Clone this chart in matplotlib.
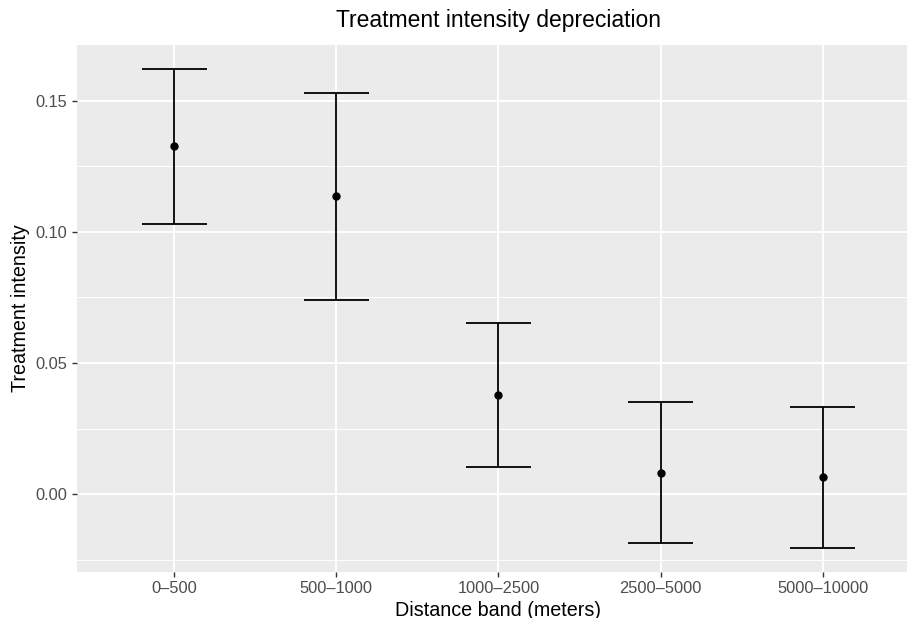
import numpy as np
import matplotlib.pyplot as plt

# values
bands = ["0\u2013500", "500\u20131000", "1000\u20132500", "2500\u20135000", "5000\u201310000"]
estimate = [0.1327, 0.1136, 0.0379, 0.0082, 0.0064]
lower = [0.1031, 0.0740, 0.0104, -0.0186, -0.0206]
upper = [0.1622, 0.1531, 0.0654, 0.0350, 0.0334]

plt.rcParams['font.family'] = ['Liberation Sans', 'DejaVu Sans']

W, H = 907, 618
fig = plt.figure(figsize=(W / 100, H / 100), dpi=100)
# panel in pixels: left 77, right 920 (cropped by the image edge), top 45, bottom 572
ax = fig.add_axes([77 / W, 1 - 572 / H, (920 - 77) / W, (572 - 45) / H])

x = np.arange(len(bands)) + 1
est = np.array(estimate)
lo = np.array(lower)
hi = np.array(upper)

ax.set_facecolor("#EBEBEB")
for s in ax.spines.values():
    s.set_visible(False)

ax.vlines(x, lo, hi, color="black", linewidth=1.3, zorder=3)
# caps 0.4 wide like geom_errorbar(width = 0.4)
ax.hlines(lo, x - 0.2, x + 0.2, color="black", linewidth=1.3, zorder=3)
ax.hlines(hi, x - 0.2, x + 0.2, color="black", linewidth=1.3, zorder=3)
ax.plot(x, est, "o", color="black", markersize=5, zorder=4)

rng = hi.max() - lo.min()
ax.set_ylim(lo.min() - 0.05 * rng, hi.max() + 0.05 * rng)
ax.set_xlim(0.4, len(bands) + 0.6)

ax.set_yticks([0.0, 0.05, 0.10, 0.15])
ax.set_yticklabels(["0.00", "0.05", "0.10", "0.15"])
ax.set_yticks([-0.025, 0.025, 0.075, 0.125], minor=True)
ax.set_xticks(x)
ax.set_xticklabels(bands)

ax.grid(which="major", color="white", linewidth=1.4)
ax.grid(which="minor", axis="y", color="white", linewidth=0.7)
ax.set_axisbelow(True)

ax.tick_params(which="major", length=3.8, width=1.0, color="#333333",
               labelsize=11.8, labelcolor="#4D4D4D", pad=3)
ax.tick_params(which="minor", length=0)

ax.set_xlabel("Distance band (meters)", fontsize=14.2, color="black", labelpad=3)
ax.set_ylabel("Treatment intensity", fontsize=14.2, color="black", labelpad=4)
fig.text((77 + 920) / 2 / W, 1 - 20 / H, "Treatment intensity depreciation",
         ha="center", va="center", fontsize=16.5)

fig.savefig("out.png", dpi=100)
